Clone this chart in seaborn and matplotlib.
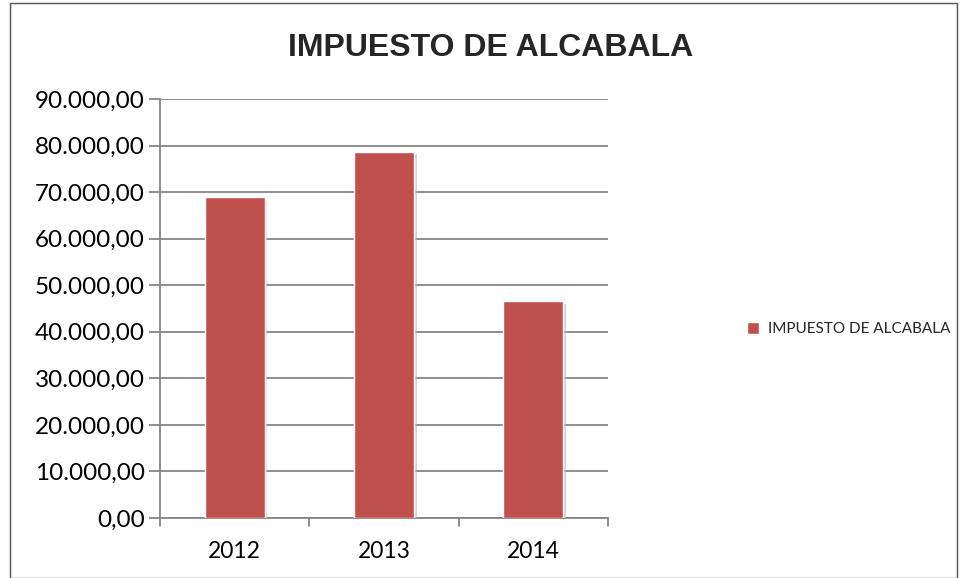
import numpy as np
import pandas as pd
import matplotlib
matplotlib.use("Agg")
import matplotlib.pyplot as plt
import matplotlib.patheffects as pe
from matplotlib.patches import Rectangle
from matplotlib.ticker import FuncFormatter, MultipleLocator
import seaborn as sns

years = ["2012", "2013", "2014"]
values = [69000.0, 78700.0, 46600.0]
series_name = "IMPUESTO DE ALCABALA"

df = pd.DataFrame({"Año": years, "Valor": values})

sns.set_style("white")
plt.rcParams["font.family"] = ["Lato", "DejaVu Sans"]

fig = plt.figure(figsize=(9.6, 5.78), dpi=100)
ax = fig.add_axes([160 / 960, 1 - 518 / 578, 448 / 960, 419 / 578])

sns.barplot(data=df, x="Año", y="Valor", color="#C0504D", width=0.4,
            saturation=1, ax=ax, zorder=3, legend=False)
for p in ax.patches:
    p.set_path_effects([pe.SimplePatchShadow(offset=(2, -2), shadow_rgbFace="#bbbbbb", alpha=0.6),
                        pe.Normal()])

ax.set_ylim(0, 90000)
ax.set_xlim(-0.5, 2.5)
ax.yaxis.set_major_locator(MultipleLocator(10000))
fmt = lambda v, pos: f"{v:,.2f}".replace(",", "X").replace(".", ",").replace("X", ".")
ax.yaxis.set_major_formatter(FuncFormatter(fmt))
ax.grid(axis="y", color="#868686", linewidth=1.3, zorder=0)
ax.set_axisbelow(True)
ax.set_xlabel("")
ax.set_ylabel("")

for s in ["top", "right"]:
    ax.spines[s].set_visible(False)
for s in ["left", "bottom"]:
    ax.spines[s].set_color("#868686")
    ax.spines[s].set_linewidth(1.3)

ax.tick_params(axis="y", left=True, length=8, width=1.3, color="#868686",
               labelsize=17.5, pad=3, labelcolor="black")
ax.set_xticks([0, 1, 2])
ax.set_xticklabels(years)
ax.tick_params(axis="x", bottom=False, labelsize=16.5, pad=13, labelcolor="black")
for xb in [-0.5, 0.5, 1.5, 2.5]:
    ax.plot([xb, xb], [0, -0.02], transform=ax.get_xaxis_transform(),
            color="#868686", linewidth=1.3, clip_on=False)

fig.text(491 / 960, 1 - 48 / 578, "IMPUESTO DE ALCABALA", ha="center", va="center",
         fontsize=23, fontweight="bold", family=["Liberation Sans", "DejaVu Sans"])

handle = Rectangle((0, 0), 1, 1, facecolor="#C0504D")
fig.legend([handle], [series_name], loc="center left",
           bbox_to_anchor=(742 / 960, 1 - 329 / 578), frameon=False,
           prop={"family": ["Lato", "DejaVu Sans"], "size": 11},
           handlelength=0.8, handleheight=0.8, handletextpad=0.6, borderaxespad=0,
           borderpad=0.3)

fig.patches.append(Rectangle((10 / 960, 0), 947 / 960, 1 - 3 / 578, transform=fig.transFigure,
                             fill=False, edgecolor="#555555", linewidth=1))

fig.savefig("out.png", dpi=100)
